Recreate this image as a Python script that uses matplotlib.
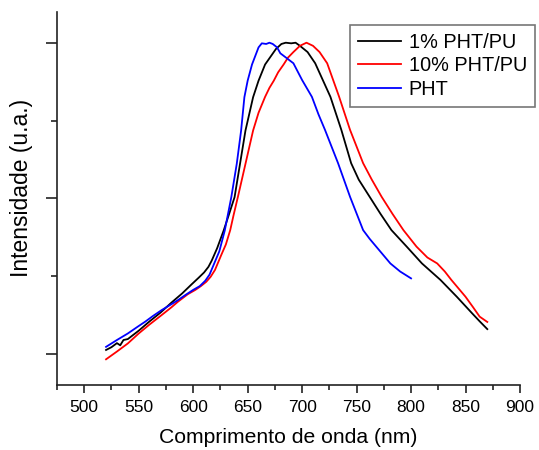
import matplotlib
matplotlib.use("Agg")
import matplotlib.pyplot as plt
from matplotlib.ticker import MultipleLocator

plt.rcParams['font.family'] = ['Liberation Sans', 'DejaVu Sans']

# wavelength (nm) and normalized intensity
wl_1pct = [520, 525, 530, 533, 536, 540, 550, 560, 570, 580, 590, 598, 605, 610,
           614, 617, 622, 628, 633, 638, 643, 648, 655, 660, 666, 672, 676, 681,
           685, 690, 694, 698, 705, 712, 719, 726, 736, 745, 752, 762, 772, 782,
           796, 810, 827, 842, 856, 863, 870]
int_1pct = [0.013, 0.022, 0.035, 0.028, 0.045, 0.048, 0.075, 0.105, 0.133, 0.165,
            0.195, 0.222, 0.245, 0.262, 0.280, 0.300, 0.340, 0.397, 0.450, 0.504,
            0.611, 0.718, 0.825, 0.878, 0.930, 0.960, 0.980, 0.996, 1.000, 0.998,
            1.000, 0.990, 0.970, 0.934, 0.880, 0.826, 0.720, 0.613, 0.560, 0.505,
            0.450, 0.398, 0.345, 0.291, 0.238, 0.184, 0.131, 0.105, 0.080]

wl_10pct = [520, 530, 540, 550, 560, 571, 580, 586, 595, 602, 607, 612, 616, 620,
            623, 626, 630, 634, 637, 641, 648, 655, 660, 666, 670, 674, 678, 683,
            687, 692, 698, 704, 710, 716, 723, 734, 744, 756, 764, 773, 783, 793,
            805, 815, 824, 831, 837, 850, 857, 863, 870]
int_10pct = [-0.017, 0.008, 0.034, 0.066, 0.095, 0.125, 0.150, 0.168, 0.192, 0.206,
             0.218, 0.232, 0.248, 0.270, 0.295, 0.320, 0.352, 0.398, 0.445, 0.504,
             0.611, 0.718, 0.775, 0.826, 0.855, 0.878, 0.905, 0.930, 0.952, 0.970,
             0.990, 1.000, 0.990, 0.970, 0.934, 0.826, 0.720, 0.613, 0.560, 0.505,
             0.450, 0.398, 0.345, 0.310, 0.291, 0.265, 0.238, 0.184, 0.150, 0.120,
             0.103]

wl_pht = [520, 530, 540, 550, 556, 563, 571, 580, 586, 593, 600, 606, 611, 615,
          618, 624, 629, 635, 640, 644, 647, 650, 654, 660, 663, 667, 670, 673,
          677, 680, 686, 692, 700, 709, 715, 721, 733, 744, 756, 762, 768, 781,
          790, 800]
int_pht = [0.023, 0.045, 0.066, 0.090, 0.104, 0.122, 0.141, 0.160, 0.173, 0.190,
           0.206, 0.218, 0.235, 0.255, 0.280, 0.330, 0.397, 0.504, 0.611, 0.718,
           0.825, 0.878, 0.930, 0.985, 0.998, 0.996, 1.000, 0.996, 0.985, 0.966,
           0.950, 0.934, 0.880, 0.826, 0.770, 0.720, 0.613, 0.505, 0.398, 0.370,
           0.345, 0.291, 0.265, 0.243]

fig = plt.figure(figsize=(5.39, 4.5), dpi=100)
ax = fig.add_axes([0.1052, 0.1444, 0.8595, 0.8289])

ax.plot(wl_1pct, int_1pct, color='black', lw=1.3, label='1% PHT/PU')
ax.plot(wl_10pct, int_10pct, color='red', lw=1.3, label='10% PHT/PU')
ax.plot(wl_pht, int_pht, color='blue', lw=1.3, label='PHT')

ax.set_xlim(474.7, 900)
ax.set_ylim(-0.0996, 1.0986)
ax.xaxis.set_major_locator(MultipleLocator(50))
ax.xaxis.set_minor_locator(MultipleLocator(25))
ax.yaxis.set_major_locator(MultipleLocator(0.5))
ax.yaxis.set_minor_locator(MultipleLocator(0.25))
ax.set_yticklabels([])
ax.tick_params(which='both', direction='out', width=1.2, color='#222222')
ax.tick_params(axis='x', which='major', length=6, labelsize=12.5, pad=5)
ax.tick_params(axis='x', which='minor', length=3.5)
ax.tick_params(axis='y', which='major', length=8)
ax.tick_params(axis='y', which='minor', length=4.5)

for s in ['top', 'right']:
    ax.spines[s].set_visible(False)
for s in ['left', 'bottom']:
    ax.spines[s].set_linewidth(1.2)
    ax.spines[s].set_color('#222222')

ax.set_xlabel('Comprimento de onda (nm)', fontsize=15.2, labelpad=9)
ax.set_ylabel('Intensidade (u.a.)', fontsize=16.5)
ax.yaxis.set_label_coords(-0.052, 0.5295)

leg = ax.legend(loc='upper left', bbox_to_anchor=(350 / 539, 1 - 25 / 450),
                bbox_transform=fig.transFigure, borderaxespad=0, fontsize=14.3,
                fancybox=False, framealpha=1, edgecolor='#777777',
                handlelength=2.17, handletextpad=0.39, borderpad=0.4,
                labelspacing=0.22)
leg.get_frame().set_linewidth(1.2)

fig.savefig('out.png', dpi=100)
